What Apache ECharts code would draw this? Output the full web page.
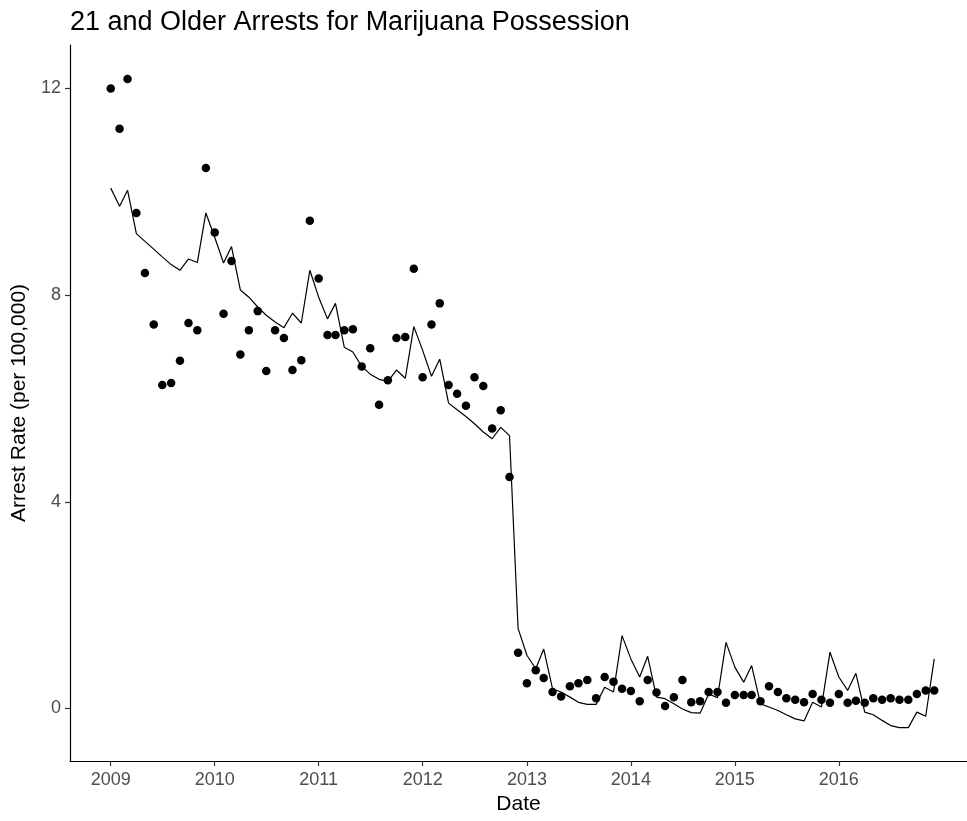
<!DOCTYPE html>
<html>
<head>
<meta charset="utf-8">
<title>21 and Older Arrests for Marijuana Possession</title>
<script src="https://cdn.jsdelivr.net/npm/echarts@6/dist/echarts.min.js"></script>
<style>
  html, body { margin: 0; padding: 0; background: #ffffff; }
  #chart { width: 967px; height: 821px; }
</style>
</head>
<body>
<div id="chart"></div>
<script>
// Monthly observations, January 2009 through December 2016
const startYear = 2009;
const endYear = 2016;

// Observed arrest rate per 100,000 (points)
const arrestRate = [
  12.00, 11.22, 12.18, 9.59, 8.43, 7.43, 6.26, 6.30, 6.73, 7.46, 7.32, 10.46,
  9.21, 7.64, 8.66, 6.85, 7.32, 7.69, 6.53, 7.32, 7.17, 6.55, 6.74, 9.44,
  8.32, 7.23, 7.23, 7.32, 7.34, 6.62, 6.97, 5.88, 6.35, 7.17, 7.19, 8.51,
  6.41, 7.43, 7.84, 6.26, 6.09, 5.86, 6.41, 6.24, 5.42, 5.77, 4.48, 1.08,
  0.49, 0.74, 0.59, 0.32, 0.23, 0.43, 0.49, 0.55, 0.20, 0.61, 0.52, 0.38,
  0.34, 0.14, 0.55, 0.31, 0.05, 0.22, 0.55, 0.12, 0.14, 0.32, 0.32, 0.11,
  0.26, 0.26, 0.26, 0.14, 0.43, 0.32, 0.20, 0.17, 0.12, 0.28, 0.17, 0.11,
  0.28, 0.11, 0.15, 0.11, 0.20, 0.17, 0.20, 0.17, 0.17, 0.28, 0.35, 0.35
];

// Model fit (line)
const fittedRate = [
  10.07, 9.72, 10.03, 9.19, 9.04, 8.89, 8.74, 8.59, 8.48, 8.70, 8.63, 9.59,
  9.12, 8.62, 8.94, 8.10, 7.96, 7.77, 7.61, 7.48, 7.37, 7.65, 7.46, 8.48,
  7.96, 7.54, 7.84, 6.99, 6.90, 6.62, 6.47, 6.37, 6.33, 6.55, 6.39, 7.39,
  6.93, 6.43, 6.76, 5.91, 5.78, 5.65, 5.51, 5.35, 5.22, 5.44, 5.28, 1.55,
  1.03, 0.77, 1.15, 0.38, 0.32, 0.22, 0.12, 0.08, 0.08, 0.41, 0.32, 1.41,
  0.96, 0.61, 1.01, 0.22, 0.19, 0.09, -0.01, -0.08, -0.09, 0.28, 0.21, 1.28,
  0.80, 0.51, 0.83, 0.09, 0.03, -0.04, -0.12, -0.20, -0.24, 0.12, 0.03, 1.09,
  0.61, 0.35, 0.68, -0.07, -0.12, -0.23, -0.33, -0.37, -0.37, -0.07, -0.15, 0.96
];

// Axis tick labels
const yearTicks = [2009, 2010, 2011, 2012, 2013, 2014, 2015, 2016];
const rateTicks = [0, 4, 8, 12];

// Dates are plotted as day numbers on a linear axis
const DAY = 24 * 3600 * 1000;
const dayNumber = (y, m) => Date.UTC(y, m, 1) / DAY;
const months = [];
for (let y = startYear; y <= endYear; y++) {
  for (let m = 0; m < 12; m++) months.push(dayNumber(y, m));
}
const pointData = months.map((d, i) => [d, arrestRate[i]]);
const lineData = months.map((d, i) => [d, fittedRate[i]]);
const yearDays = yearTicks.map(y => dayNumber(y, 0));

const FONT = 'Liberation Sans, Arial, sans-serif';

const chart = echarts.init(document.getElementById('chart'), null, { renderer: 'canvas' });
chart.setOption({
  backgroundColor: '#ffffff',
  animation: false,
  title: {
    text: '21 and Older Arrests for Marijuana Possession',
    left: 65,
    top: 4,
    textStyle: { fontFamily: FONT, fontSize: 27, fontWeight: 'normal', color: '#000000' }
  },
  grid: { left: 70, right: 0, top: 45, bottom: 60 },
  xAxis: {
    type: 'value',
    min: months[0] - 143,
    max: months[months.length - 1] + 115,
    name: 'Date',
    nameLocation: 'middle',
    nameGap: 30,
    nameTextStyle: { fontFamily: FONT, fontSize: 21, color: '#000000' },
    axisLine: { show: true, onZero: false, lineStyle: { color: '#000000', width: 1.2 } },
    axisTick: { show: true, length: 5, customValues: yearDays, lineStyle: { color: '#333333', width: 1.2 } },
    axisLabel: {
      customValues: yearDays,
      margin: 10,
      fontFamily: FONT,
      fontSize: 18,
      color: '#4d4d4d',
      formatter: v => String(new Date(v * DAY).getUTCFullYear())
    },
    splitLine: { show: false }
  },
  yAxis: {
    type: 'value',
    min: -1.016,
    max: 12.84,
    name: 'Arrest Rate (per 100,000)',
    nameLocation: 'middle',
    nameRotate: 90,
    nameGap: 34,
    nameTextStyle: { fontFamily: FONT, fontSize: 21, color: '#000000' },
    axisLine: { show: true, onZero: false, lineStyle: { color: '#000000', width: 1.2 } },
    axisTick: { show: true, length: 5, customValues: rateTicks, lineStyle: { color: '#333333', width: 1.2 } },
    axisLabel: {
      customValues: rateTicks,
      margin: 9,
      fontFamily: FONT,
      fontSize: 18,
      color: '#4d4d4d'
    },
    splitLine: { show: false }
  },
  series: [
    {
      name: 'Fitted',
      type: 'line',
      data: lineData,
      showSymbol: false,
      symbol: 'none',
      lineStyle: { color: '#000000', width: 1.2 },
      z: 2
    },
    {
      name: 'Observed',
      type: 'scatter',
      data: pointData,
      symbol: 'circle',
      symbolSize: 8.5,
      itemStyle: { color: '#000000', opacity: 1 },
      z: 3
    }
  ]
});
</script>
</body>
</html>
